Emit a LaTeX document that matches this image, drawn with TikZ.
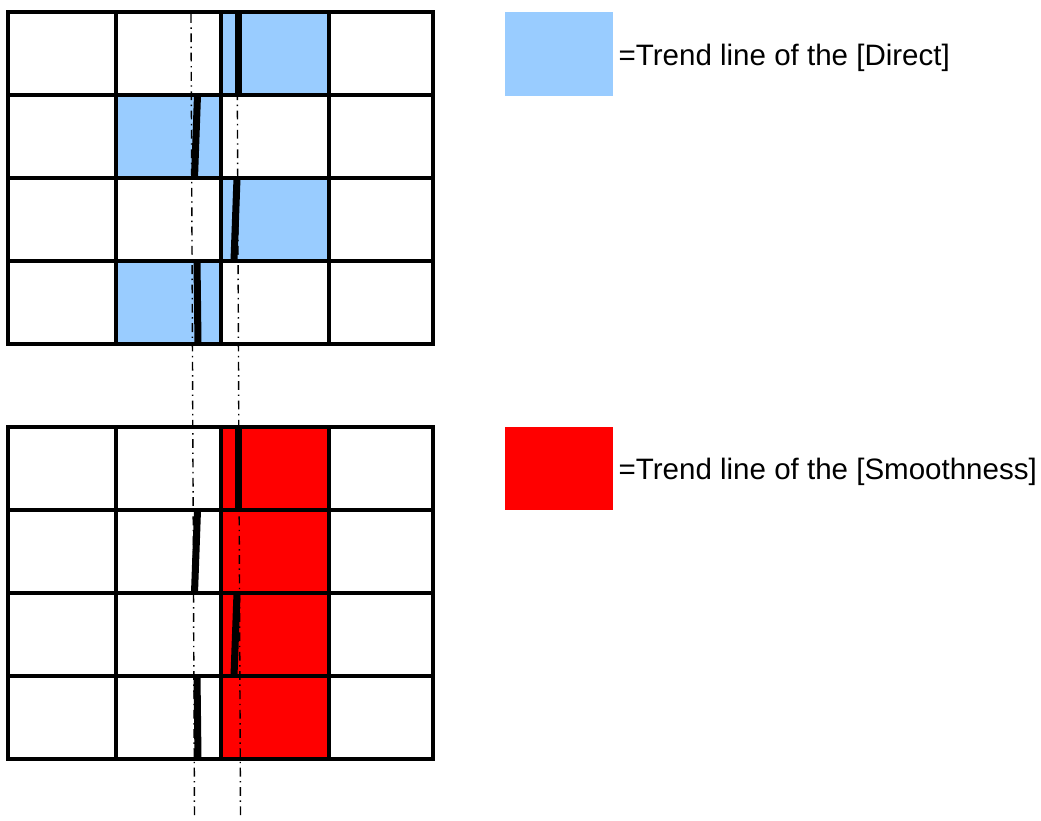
\documentclass[tikz,border=0pt]{standalone}
\usepackage{fontspec}
\setmainfont{Liberation Sans}
\usepackage{xcolor}
\usepackage{tikz}
\usetikzlibrary{positioning}

\definecolor{directblue}{RGB}{153,204,255}
\definecolor{smoothred}{RGB}{255,0,0}

\begin{document}
\begin{tikzpicture}[
            x=0.02cm, y=-0.02cm,               % 1 unit = 1 pixel of the sketch
            node distance=0.1cm,
            gridline/.style={
                draw=black,
                line width=2.1pt,
                line cap=rect
            },
            trendseg/.style={
                draw=black,
                line width=4pt
            },
            axisline/.style={
                draw=black,
                line width=0.8pt,
                dash pattern=on 5pt off 2.6pt on 0.8pt off 2.6pt
            },
            keybox/.style={
                rectangle,
                minimum width=2.16cm,
                minimum height=1.68cm,
                inner sep=0pt
            },
            keytext/.style={
                inner sep=0pt,
                yshift=-0.07cm,
                font=\fontsize{16.8}{20}\selectfont
            }
        ]
            \useasboundingbox (0,0) rectangle (1041,821);

            % --- CELDAS COLOREADAS ---
            \fill[directblue] (221,12) rectangle (329,95);
            \fill[directblue] (116,95) rectangle (221,178);
            \fill[directblue] (221,178) rectangle (329,261);
            \fill[directblue] (116,261) rectangle (221,344);
            \fill[smoothred] (221,427) rectangle (329,759);

            % --- REJILLAS ---
            \foreach \yo in {0,415} {
                \foreach \y in {12,95,178,261,344}
                    \draw[gridline] (8,{\y+\yo}) -- (433,{\y+\yo});
                \foreach \x in {8,116,221,329,433}
                    \draw[gridline] (\x,{12+\yo}) -- (\x,{344+\yo});
            }

            % --- EJES DE REFERENCIA ---
            \draw[axisline] (191,14) -- (194.5,818);
            \draw[axisline] (237,14) -- (240.5,818);

            % --- SEGMENTOS DE TENDENCIA ---
            \foreach \yo in {0,415} {
                \draw[trendseg] (238.5,{12+\yo}) -- (238.5,{95+\yo});
                \draw[trendseg] (197.5,{95+\yo}) -- (194.5,{178+\yo});
                \draw[trendseg] (237,{178+\yo}) -- (234,{261+\yo});
                \draw[trendseg] (197,{261+\yo}) -- (198,{344+\yo});
            }

            % --- LEYENDA ---
            \node [keybox, fill=directblue] (directkey) at (559,54) {};
            \node [keytext, right=of directkey] (directtext) {=Trend line of the [Direct]};

            \node [keybox, fill=smoothred] (smoothkey) at (559,468.5) {};
            \node [keytext, right=of smoothkey] (smoothtext) {=Trend line of the [Smoothness]};
        \end{tikzpicture}
\end{document}
